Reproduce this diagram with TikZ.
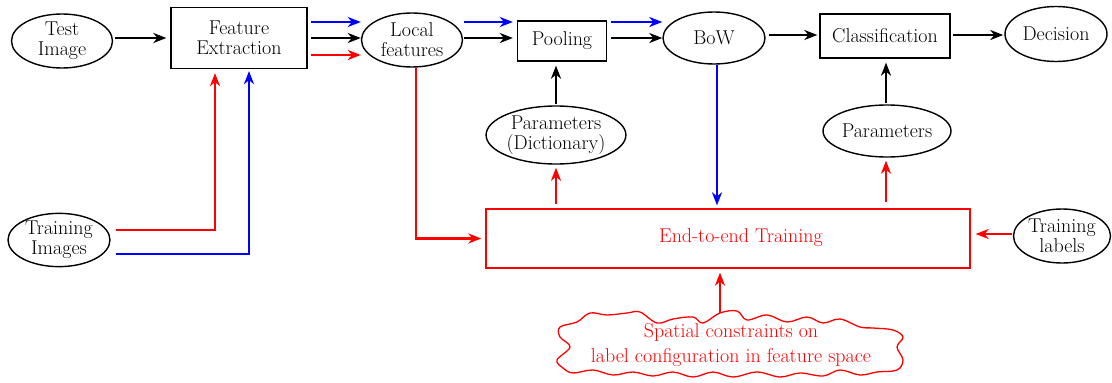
\documentclass[tikz,border=0pt]{standalone}
\usetikzlibrary{arrows.meta,calc,shapes.geometric}
\begin{document}
\begin{tikzpicture}[x=1pt,y=-1pt]
\tikzset{
  base/.style={font=\fontsize{20}{20}\selectfont, align=center, inner sep=0pt},
  ell/.style={base, ellipse, draw, line width=1.4pt},
  box/.style={base, rectangle, draw, line width=1.3pt},
  arr/.style={line width=2.2pt, -{Stealth[length=13pt,width=10pt,inset=4pt]}},
  cloudtext/.style={base, text=red, font=\fontsize{20}{25}\selectfont},
  cloudline/.style={draw=red, line width=1.3pt},
}
\useasboundingbox (0,0) rectangle (1112,383);

\node[ell, minimum width=101pt, minimum height=54pt] (test) at (62,41) {Test\\Image};
\node[box, minimum width=136pt, minimum height=61pt] (fe) at (239,38) {Feature\\Extraction};
\node[ell, minimum width=101pt, minimum height=54pt] (loc) at (412,40) {Local\\features};
\node[box, minimum width=89pt, minimum height=40pt] (pool) at (562,41) {Pooling};
\node[ell, minimum width=102pt, minimum height=52pt] (bow) at (714,38) {BoW};
\node[box, minimum width=130pt, minimum height=44pt] (cls) at (885,36) {Classification};
\node[ell, minimum width=102pt, minimum height=55pt] (dec) at (1056,34) {Decision};
\node[ell, minimum width=123pt, minimum height=58pt] (pd) at (556,135) {Parameters\\(Dictionary)};
\node[ell, minimum width=125pt, minimum height=52pt] (pc) at (887,131) {Parameters};
\node[box, draw=red, minimum width=484pt, minimum height=59pt] (e2e) at (728,238.5) {};
\node[base, text=red] (e2etext) at (741,238) {End-to-end Training};
\node[ell, minimum width=102pt, minimum height=53pt] (ti) at (59,240) {Training\\Images};
\node[ell, minimum width=97pt, minimum height=54pt] (tl) at (1062,236) {Training\\labels};
\node[cloudtext, minimum width=340pt, minimum height=64pt] (cloud) at (731,345) {Spatial constraints on\\label configuration in feature space};

% cloud outline
\draw[cloudline] plot[smooth cycle, tension=0.6] coordinates {
  (577,322) (590,313) (607,315) (627,313) (640,312) (657,323) (673,319) (693,317)
  (703,323) (720,313) (737,311) (747,320) (767,315) (787,322) (807,317) (823,323)
  (840,319) (860,327) (873,328) (893,330) (903,337) (897,347) (903,360) (897,370)
  (877,372) (860,375) (840,370) (823,376) (800,373) (780,377) (757,372) (733,377)
  (713,372) (693,377) (673,372) (653,376) (633,372) (613,375) (593,370) (573,373)
  (563,368) (557,360) (570,347) (560,337) (560,327)};

% top row
\draw[arr] ($(test.east)+(2,-3)$) -- ($(fe.west)+(-4,0)$);
\draw[arr, blue] ($(fe.east)+(3,-16)$) -- ($(loc.west)+(0,-18)$);
\draw[arr] ($(fe.east)+(3,0)$) -- ($(loc.west)+(0,-2)$);
\draw[arr, red] ($(fe.east)+(3,17)$) -- ($(loc.west)+(0,15)$);
\draw[arr, blue] ($(loc.east)+(1,-18)$) -- ($(pool.west)+(-4,-19)$);
\draw[arr] ($(loc.east)+(1,-2)$) -- ($(pool.west)+(-4,-3)$);
\draw[arr, blue] ($(pool.east)+(3.5,-19)$) -- ($(bow.west)+(0,-16)$);
\draw[arr] ($(pool.east)+(3.5,-3)$) -- ($(bow.west)+(0,0)$);
\draw[arr] ($(bow.east)+(3,-3)$) -- ($(cls.west)+(-2,-1)$);
\draw[arr] ($(cls.east)+(2,-1)$) -- ($(dec.west)+(-1,1)$);

% training images
\draw[arr, red] ($(ti.east)+(5,-10)$) -| ($(fe.south)+(-24,4)$);
\draw[arr, blue] ($(ti.east)+(5,14)$) -| ($(fe.south)+(10,2)$);

% local features to training
\draw[arr, red] ($(loc.south)+(4,0)$) |- ($(e2e.west)+(-4,0)$);
% BoW to training
\draw[arr, blue] ($(bow.south)+(3,0)$) -- ($(bow.south |- e2e.north)+(3,-3)$);
% parameters
\draw[arr] ($(pd.north)+(0,-1)$) -- ($(pd.north |- pool.south)+(0,4)$);
\draw[arr] ($(pc.north)+(-1,-1)$) -- ($(pc.north |- cls.south)+(-1,4)$);
\draw[arr, red] ($(pd.south |- e2e.north)+(0,-4)$) -- ($(pd.south)+(0,3)$);
\draw[arr, red] ($(pc.south |- e2e.north)+(-1,-6)$) -- ($(pc.south)+(-1,3)$);
% labels
\draw[arr, red] ($(tl.west)+(-1,-2)$) -- ($(e2e.east |- tl.west)+(5,-2)$);
% cloud
\draw[arr, red] ($(cloud.north)+(-11,0)$) -- ($(cloud.north |- e2e.south)+(-11,4)$);
\end{tikzpicture}
\end{document}
